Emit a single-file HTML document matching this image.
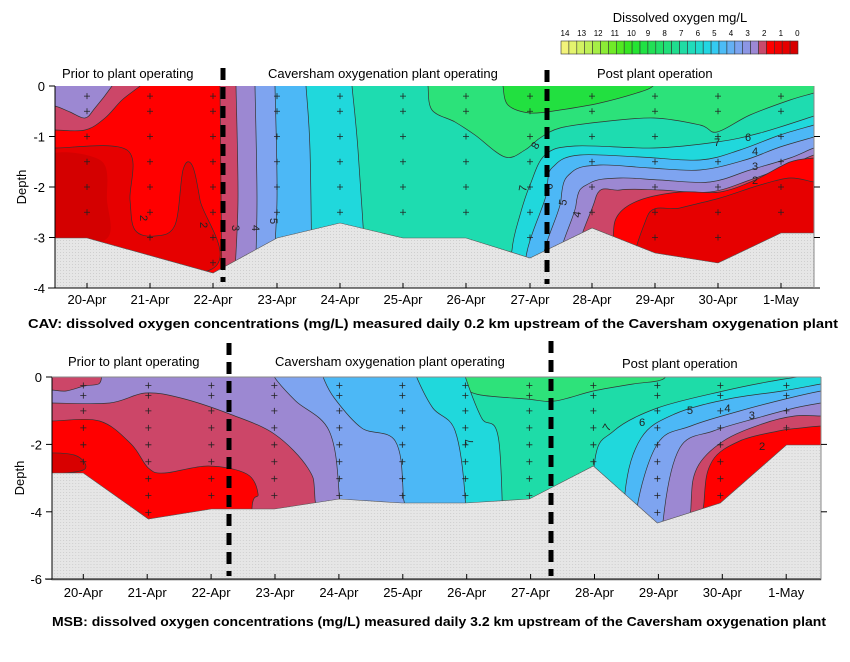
<!DOCTYPE html>
<html><head><meta charset="utf-8"><style>
html,body{margin:0;padding:0;background:#fff;}
svg{display:block;font-family:"Liberation Sans",sans-serif;}
</style></head><body>
<svg id="s" width="850" height="662" viewBox="0 0 850 662" xmlns="http://www.w3.org/2000/svg">
<defs>
<pattern id="hatch" width="3" height="3" patternUnits="userSpaceOnUse">
<rect width="3" height="3" fill="#e6e6e6"/><rect width="1" height="1" fill="#cfcfcf"/>
</pattern>
<clipPath id="clipT"><rect x="55" y="86" width="759" height="202"/></clipPath>
<clipPath id="clipB"><rect x="58" y="377" width="757" height="203"/></clipPath>
</defs>
<!-- Legend -->
<text x="680" y="22" font-size="13" text-anchor="middle">Dissolved oxygen mg/L</text>
<g id="legnums" font-size="8" text-anchor="middle"></g>
<g id="legbox"></g>

<!-- TOP CHART -->
<g id="ct" clip-path="url(#clipT)" stroke="#333" stroke-width="0.7" stroke-linejoin="round">
<rect x="55" y="86" width="759" height="202" fill="#1edcb0" stroke="none"/>
<polygon fill="#2ce27a" points="428,80 428,86 432,110 455,122 475,135 505,157 525,150 540,138 560,128 600,122 654,118 700,125 717,132 750,115 790,100 814,93 830,88 830,80"/>
<polygon fill="#22e040" points="503,80 503,86 508,105 530,113 560,110 600,103 640,92 653,86 653,80"/>
<g fill="#20d8dc">
<polygon points="40,80 352,80 352,86 358,150 367,288 367,300 40,300"/>
<polygon points="512,300 512,250 520,215 530,185 545,155 575,146 654,148 717,142 760,133 814,116 830,110 830,300"/>
</g>
<g fill="#4cb8f6">
<polygon points="40,80 306,80 306,86 310,150 312,288 312,300 40,300"/>
<polygon points="546,300 547,190 555,165 580,155 640,157 700,160 740,150 780,135 814,125 830,120 830,300"/>
</g>
<g fill="#7ea4f0">
<polygon points="40,80 275,80 275,86 277,200 272,288 272,300 40,300"/>
<polygon points="562,300 561,200 572,172 600,165 650,168 700,170 745,160 780,147 814,137 830,132 830,300"/>
</g>
<g fill="#9c88d2">
<polygon points="40,80 255,80 255,86 257,200 255,288 255,300 40,300"/>
<polygon points="577,300 576,205 590,183 620,178 660,180 710,182 750,170 790,158 814,148 830,145 830,300"/>
</g>
<g fill="#cc4668">
<polygon points="40,104 55,106 70,112 85,118 95,108 112,86 115,80 236,80 236,86 238,200 234,288 234,300 40,300"/>
<polygon points="592,300 595,200 620,190 660,190 710,192 750,180 790,165 814,155 830,152 830,300"/>
</g>
<g fill="#ff0000">
<polygon points="40,130 55,130 85,130 105,118 122,100 140,86 145,80 220,80 220,86 222,288 222,300 40,300"/>
<polygon points="613,300 613,240 618,215 640,200 680,192 720,192 755,180 790,162 814,158 830,156 830,300"/>
</g>
<g fill="#e60000">
<polygon points="40,148 55,148 127,150 130,200 135,230 155,236 175,225 183,170 192,165 200,200 210,270 40,270"/>
<polygon points="647,300 647,217 680,208 720,198 760,185 790,178 814,182 830,184 830,300"/>
</g>
<polygon fill="#d40000" stroke="none" points="40,160 100,160 107,200 105,240 40,240"/>
</g>
<polygon fill="url(#hatch)" stroke="#555" stroke-width="0.6" points="55,238 87,238 213,273 277,238 340,223 403,238 466,238 530,258 592,228 655,253 718,263 781,233 814,233 814,288 55,288"/>
<g id="crossTop" stroke="#222" stroke-width="0.8"></g>
<g font-size="11" fill="#222">
<text x="140" y="215" transform="rotate(90 140 215)">2</text>
<text x="200" y="222" transform="rotate(90 200 222)">2</text>
<text x="232" y="225" transform="rotate(90 232 225)">3</text>
<text x="252" y="225" transform="rotate(90 252 225)">4</text>
<text x="270" y="218" transform="rotate(90 270 218)">5</text>
<text x="537" y="150" transform="rotate(-60 537 150)">8</text>
<text x="526" y="192" transform="rotate(-80 526 192)">7</text>
<text x="552" y="190" transform="rotate(-80 552 190)">6</text>
<text x="566" y="206" transform="rotate(-80 566 206)">5</text>
<text x="580" y="218" transform="rotate(-80 580 218)">4</text>
<text x="714" y="146">7</text>
<text x="745" y="141">6</text>
<text x="752" y="155">4</text>
<text x="752" y="170">3</text>
<text x="752" y="184">2</text>
</g>
<g stroke="#000" stroke-width="1" fill="none">
<line x1="55" y1="86" x2="55" y2="288"/>
<line x1="48" y1="288" x2="820" y2="288"/>
<line x1="814" y1="86" x2="814" y2="288" stroke="#888"/>
</g>
<g id="axTop"></g>
<text transform="translate(26,187) rotate(-90)" font-size="13" text-anchor="middle">Depth</text>
<g font-size="13">
<text x="62" y="78">Prior to plant operating</text>
<text x="268" y="78">Caversham oxygenation plant operating</text>
<text x="597" y="78">Post plant operation</text>
</g>
<text x="28" y="328" font-size="12.5" font-weight="bold" textLength="810" lengthAdjust="spacingAndGlyphs">CAV: dissolved oxygen concentrations (mg/L) measured daily 0.2 km upstream of the Caversham oxygenation plant</text>

<!-- BOTTOM CHART -->
<g transform="matrix(1.016,0,0,1,-7.1,0)">
<g id="cb" clip-path="url(#clipB)" stroke="#333" stroke-width="0.7" stroke-linejoin="round">
<rect x="58" y="377" width="757" height="203" fill="#1edca8" stroke="none"/>
<polygon fill="#2ee27a" points="460,370 460,377 465,388 480,395 525,399 553,401 591,391 630,384 654,381 662,377 662,370"/>
<g fill="#20d8dc">
<polygon points="40,370 465,370 465,377 481,418 498,441 503,580 503,595 40,595"/>
<polygon points="592,595 592,464 611,431 654,408 719,391 773,380 815,374 830,372 830,595"/>
</g>
<g fill="#4cb8f6">
<polygon points="40,370 417,370 417,377 433,408 455,431 465,501 465,595 40,595"/>
<polygon points="622,595 622,494 638,438 671,414 724,399 777,391 815,384 830,382 830,595"/>
</g>
<g fill="#7ea4f0">
<polygon points="40,370 325,370 325,377 336,398 363,428 396,441 404,497 404,595 40,595"/>
<polygon points="633,595 633,514 654,444 687,426 735,411 784,398 815,391 830,389 830,595"/>
</g>
<g fill="#9c88d2">
<polygon points="40,370 277,370 277,377 298,401 331,431 341,498 341,595 40,595"/>
<polygon points="660,595 660,518 676,448 709,431 752,418 789,408 815,403 830,401 830,595"/>
</g>
<g fill="#cc4668">
<polygon points="40,403 58,403 115,403 150,393 185,398 233,414 277,434 310,468 317,499 317,595 40,595"/>
<polygon points="40,370 107,370 107,377 104,384 90,386 72,391 58,390 40,390"/>
<polygon points="687,595 687,508 693,468 719,441 757,424 789,416 815,416 830,416 830,595"/>
</g>
<g fill="#ff0000">
<polygon points="40,421 58,421 105,421 136,444 153,468 169,473 212,466 250,474 261,494 255,508 255,595 40,595"/>
<polygon points="700,595 700,501 708,461 735,441 773,431 795,428 815,426 830,426 830,595"/>
</g>
<polygon fill="#d80000" points="40,455 80,455 89,470 40,473"/>
</g>
<polygon fill="url(#hatch)" stroke="#555" stroke-width="0.6" points="58,473 89,473 153,519 215,509 277,509 341,499 403,503 465,503 528,499 591,466 654,523 716,503 781,445 815,445 815,580 58,580"/>
<g id="crossBot" stroke="#222" stroke-width="0.8"></g>
<g font-size="11" fill="#222">
<text x="473" y="444" transform="rotate(-100 473 444)">7</text>
<text x="606" y="432" transform="rotate(-60 606 432)">7</text>
<text x="636" y="426">6</text>
<text x="683" y="414">5</text>
<text x="720" y="412">4</text>
<text x="744" y="419">3</text>
<text x="754" y="450">2</text>
</g>
</g>
<g stroke="#000" stroke-width="1" fill="none">
<line x1="52" y1="377" x2="52" y2="579"/>
<line x1="45" y1="579" x2="821" y2="579"/>
<line x1="821" y1="377" x2="821" y2="579" stroke="#888"/>
<line x1="52" y1="377" x2="821" y2="377" stroke="#888"/>
</g>
<g id="axBot"></g>
<text transform="translate(24,478) rotate(-90)" font-size="13" text-anchor="middle">Depth</text>
<g font-size="13">
<text x="68" y="366">Prior to plant operating</text>
<text x="275" y="366">Caversham oxygenation plant operating</text>
<text x="622" y="368">Post plant operation</text>
</g>
<text x="52" y="626" font-size="12.5" font-weight="bold" textLength="774" lengthAdjust="spacingAndGlyphs">MSB: dissolved oxygen concentrations (mg/L) measured daily 3.2 km upstream of the Caversham oxygenation plant</text>

<g stroke="#000" stroke-width="5" stroke-dasharray="12,7">
<line x1="223" y1="68" x2="223" y2="282"/>
<line x1="547" y1="70" x2="547" y2="284"/>
<line x1="229" y1="343" x2="229" y2="576"/>
<line x1="551" y1="341" x2="551" y2="576"/>
</g>
</svg>
<script>
var NS="http://www.w3.org/2000/svg";
function el(p,t,a,txt){var e=document.createElementNS(NS,t);for(var k in a)e.setAttribute(k,a[k]);if(txt!==undefined)e.textContent=txt;document.getElementById(p).appendChild(e);return e;}
// smooth contour polygons
["ct","cb"].forEach(function(id){
  var polys=document.getElementById(id).querySelectorAll("polygon");
  polys.forEach(function(pg){
    var pts=pg.getAttribute("points").trim().split(/\s+/).map(function(s){var a=s.split(",");return [+a[0],+a[1]];});
    var n=pts.length,d="M"+pts[0][0]+" "+pts[0][1];
    for(var i=0;i<n;i++){
      var p0=pts[(i-1+n)%n],p1=pts[i],p2=pts[(i+1)%n],p3=pts[(i+2)%n];
      var c1x=p1[0]+(p2[0]-p0[0])/6,c1y=p1[1]+(p2[1]-p0[1])/6,c2x=p2[0]-(p3[0]-p1[0])/6,c2y=p2[1]-(p3[1]-p1[1])/6;
      d+="C"+c1x.toFixed(1)+" "+c1y.toFixed(1)+" "+c2x.toFixed(1)+" "+c2y.toFixed(1)+" "+p2[0]+" "+p2[1];
    }
    var path=document.createElementNS(NS,"path");path.setAttribute("d",d+"Z");
    if(pg.getAttribute("fill"))path.setAttribute("fill",pg.getAttribute("fill"));
    if(pg.getAttribute("stroke"))path.setAttribute("stroke",pg.getAttribute("stroke"));
    pg.parentNode.replaceChild(path,pg);
  });
});
var dates=["20-Apr","21-Apr","22-Apr","23-Apr","24-Apr","25-Apr","26-Apr","27-Apr","28-Apr","29-Apr","30-Apr","1-May"];
var cols=['#f2f27a','#e4f46e','#d2f262','#bef056','#a6ee46','#8cec36','#70ea28','#52e822','#36e622','#24e432','#20e244','#22e056','#20e068','#20df7a','#20dd8e','#20dca4','#20dcba','#20dace','#22d6e2','#34cbf2','#4cbcf6','#64b0f4','#7ca4f0','#8c96e4','#9c88d4','#c84a6c','#ff0000','#f20000','#e60000','#d80000'];
var n=cols.length, lx=561, lw=(798-561)/n;
for(var i=0;i<n;i++){el("legbox","rect",{x:lx+i*lw,y:41,width:lw,height:13,fill:cols[i],stroke:"#333","stroke-width":0.6});}
for(var v=14;v>=0;v--){el("legnums","text",{x:565+(14-v)*16.6,y:36},String(v));}
for(var d=0;d<=4;d++){var y=86+d*50.5;el("axTop","line",{x1:49,y1:y,x2:55,y2:y,stroke:"#000"});el("axTop","text",{x:45,y:y+5,"font-size":13,"text-anchor":"end"},d==0?"0":"-"+d);if(d>0&&d<4)el("axTop","line",{x1:814,y1:y,x2:820,y2:y,stroke:"#000"});}
var tx=[87,150,213,277,340,403,466,530,592,655,718,781];
for(var i=0;i<12;i++){el("axTop","line",{x1:tx[i],y1:283,x2:tx[i],y2:288,stroke:"#000"});el("axTop","text",{x:tx[i],y:304,"font-size":13,"text-anchor":"middle"},dates[i]);}
var bedT=[3,3.3,3.7,3,2.7,3,3,3.4,2.8,3.3,3.5,2.9];
for(var i=0;i<12;i++){var ds=[0.2,0.5,1,1.5,2,2.5,3,3.5];for(var j=0;j<ds.length;j++){if(ds[j]>bedT[i]-0.1)break;var y=86+ds[j]*50.5,x=tx[i];el("crossTop","path",{d:"M"+(x-3)+" "+y+"h6M"+x+" "+(y-3)+"v6",fill:"none"});}}
for(var d=0;d<=3;d++){var y=377+d*67.4;el("axBot","line",{x1:46,y1:y,x2:52,y2:y,stroke:"#000"});el("axBot","text",{x:42,y:y+5,"font-size":13,"text-anchor":"end"},d==0?"0":"-"+(2*d));if(d>0&&d<3)el("axBot","line",{x1:821,y1:y,x2:827,y2:y,stroke:"#000"});}
var bx=[];for(var i=0;i<12;i++){bx.push(83.3+i*63.9);el("axBot","line",{x1:bx[i],y1:574,x2:bx[i],y2:579,stroke:"#000"});el("axBot","text",{x:bx[i],y:597,"font-size":13,"text-anchor":"middle"},dates[i]);}
var bedB=[2.8,4.2,3.9,3.9,3.6,3.7,3.7,3.6,2.6,4.3,3.7,2];
var bx0=[89,153,215,277,341,403,465,528,591,654,716,781];
for(var i=0;i<12;i++){var ds=[0.25,0.55,1,1.5,2,2.5,3,3.5,4];for(var j=0;j<ds.length;j++){if(ds[j]>bedB[i]-0.1)break;var y=377+ds[j]*33.9,x=bx0[i];el("crossBot","path",{d:"M"+(x-3)+" "+y+"h6M"+x+" "+(y-3)+"v6",fill:"none"});}}
</script>
</body></html>
